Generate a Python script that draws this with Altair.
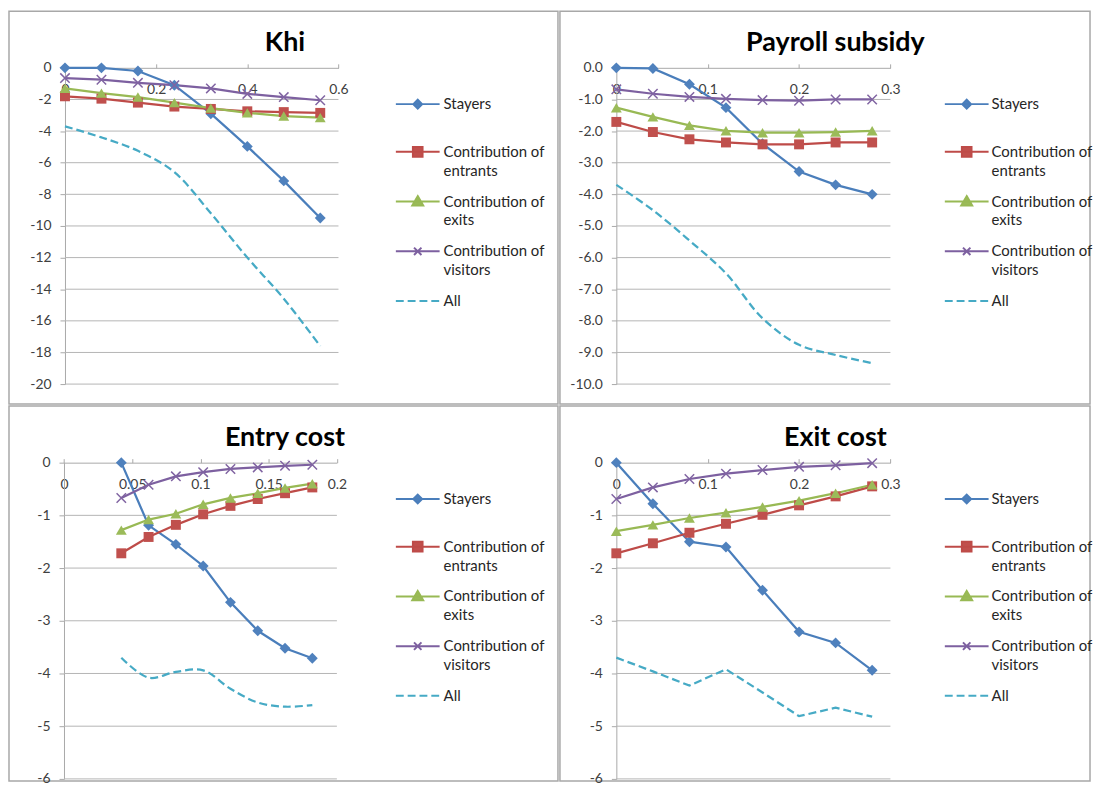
import altair as alt
import pandas as pd

SERIES = ["Stayers", "Contribution of entrants", "Contribution of exits",
          "Contribution of visitors", "All"]
LINE_COLORS = ["#4A7EBB", "#BE4B48", "#98B954", "#7D60A0", "#46AAC5"]
MARKER_COLORS = ["#4F81BD", "#C0504D", "#9BBB59", "#8064A2", "#4BACC6"]

# ---- Khi ----
khi_x = [0, 0.08, 0.16, 0.24, 0.32, 0.40, 0.48, 0.56]
khi_stayers = [0, 0, -0.2, -1.1, -2.9, -4.97, -7.15, -9.5]
khi_entrants = [-1.8, -1.95, -2.2, -2.45, -2.6, -2.75, -2.8, -2.85]
khi_exits = [-1.3, -1.6, -1.85, -2.2, -2.55, -2.85, -3.05, -3.15]
khi_visitors = [-0.65, -0.75, -0.95, -1.1, -1.3, -1.65, -1.85, -2.05]
khi_all = [-3.7, -4.4, -5.25, -6.6, -9.2, -12.0, -14.6, -17.6]
khi_xticks = [0, 0.2, 0.4, 0.6]
khi_yticks = [0, -2, -4, -6, -8, -10, -12, -14, -16, -18, -20]

# ---- Payroll subsidy ----
pay_x = [0, 0.04, 0.08, 0.12, 0.16, 0.20, 0.24, 0.28]
pay_stayers = [0, -0.02, -0.52, -1.26, -2.4, -3.28, -3.7, -4.0]
pay_entrants = [-1.71, -2.03, -2.26, -2.36, -2.42, -2.42, -2.36, -2.36]
pay_exits = [-1.26, -1.55, -1.82, -1.99, -2.05, -2.05, -2.03, -1.99]
pay_visitors = [-0.68, -0.82, -0.92, -0.98, -1.02, -1.04, -1.0, -1.0]
pay_all = [-3.7, -4.5, -5.46, -6.5, -7.92, -8.76, -9.08, -9.34]
pay_xticks = [0, 0.1, 0.2, 0.3]
pay_yticks = [0, -1, -2, -3, -4, -5, -6, -7, -8, -9, -10]

# ---- Entry cost ----
ent_x = [0.042, 0.062, 0.082, 0.102, 0.122, 0.142, 0.162, 0.182]
ent_stayers = [0, -1.19, -1.55, -1.96, -2.65, -3.19, -3.52, -3.71]
ent_entrants = [-1.72, -1.41, -1.18, -0.98, -0.82, -0.69, -0.58, -0.47]
ent_exits = [-1.28, -1.08, -0.97, -0.79, -0.67, -0.58, -0.48, -0.40]
ent_visitors = [-0.67, -0.42, -0.26, -0.18, -0.12, -0.09, -0.06, -0.04]
ent_all = [-3.70, -4.08, -3.97, -3.94, -4.29, -4.55, -4.63, -4.60]
ent_xticks = [0, 0.05, 0.1, 0.15, 0.2]
ent_yticks = [0, -1, -2, -3, -4, -5, -6]

# ---- Exit cost ----
ext_x = [0, 0.04, 0.08, 0.12, 0.16, 0.20, 0.24, 0.28]
ext_stayers = [0, -0.78, -1.50, -1.60, -2.42, -3.21, -3.42, -3.94]
ext_entrants = [-1.72, -1.53, -1.33, -1.16, -0.99, -0.81, -0.64, -0.45]
ext_exits = [-1.30, -1.18, -1.05, -0.95, -0.84, -0.72, -0.58, -0.42]
ext_visitors = [-0.69, -0.47, -0.31, -0.21, -0.14, -0.08, -0.05, -0.01]
ext_all = [-3.70, -3.96, -4.23, -3.92, -4.36, -4.81, -4.65, -4.82]
ext_xticks = [0, 0.1, 0.2, 0.3]
ext_yticks = [0, -1, -2, -3, -4, -5, -6]

# ---- styling ----
GRID = "#b4b4b4"
AXIS = "#a8a8a8"
FONT = "Lato"
X_PATH = "M-1,-1L1,1M-1,1L1,-1"
E = "M0,-0.636M0,0.923"
LEGEND_PATHS = [
    E + "M-1,0L1,0M-0.2,0L0,-0.2L0.2,0L0,0.2Z",
    E + "M-1,0L1,0M-0.22,-0.22L0.22,-0.22L0.22,0.22L-0.22,0.22Z",
    E + "M-1,0L1,0M0,-0.25L0.25,0.18L-0.25,0.18Z",
    E + "M-1,0L1,0M-0.17,-0.17L0.17,0.17M-0.17,0.17L0.17,-0.17",
    E + "M-1,0L-0.64,0M-0.46,0L-0.1,0M0.08,0L0.44,0M0.62,0L0.98,0",
]
LABEL_EXPR = ("indexof(datum.label, 'Contribution of ') == 0 ? "
              "['Contribution of', substring(datum.label, 16)] : datum.label")

PY0, PY1 = 57, 375


def build_panel(title, xs, vals, x_ticks, y_ticks, y_fmt, smooth_all,
                px0, px1, width, height, title_dx, leg_x, leg_off):
    rows = []
    for s, v in zip(SERIES, vals):
        for xv, yv in zip(xs, v):
            rows.append({"x": xv, "value": yv, "series": s})
    df = pd.DataFrame(rows)
    grid_df = pd.DataFrame({"gy": y_ticks[1:],
                            "x0": [x_ticks[0]] * (len(y_ticks) - 1),
                            "x1": [x_ticks[-1]] * (len(y_ticks) - 1)})

    xscale = alt.Scale(domain=[x_ticks[0], x_ticks[-1]], range=[px0, px1],
                       nice=False, zero=False)
    yscale = alt.Scale(domain=[y_ticks[-1], y_ticks[0]], range=[PY1, PY0],
                       nice=False, zero=False)
    xaxis = alt.Axis(orient="top", offset=-PY0, values=x_ticks, format="~g",
                     grid=False, title=None, tickSize=4, labelBaseline="top",
                     labelPadding=-19, labelFlush=False, labelOverlap=False,
                     labelExpr="replace(datum.label, '\u2212', '-')")
    yaxis = alt.Axis(orient="left", offset=-px0, values=y_ticks, format=y_fmt,
                     grid=False, title=None, tickSize=5, labelPadding=9,
                     labelOverlap=False, labelFlush=False,
                     labelExpr="replace(datum.label, '\u2212', '-')")

    def X(f):
        return alt.X(f, scale=xscale, axis=xaxis, title=None)

    def Y(f):
        return alt.Y(f, scale=yscale, axis=yaxis, title=None)

    layers = [alt.Chart(grid_df).mark_rule(color=GRID, strokeWidth=1).encode(
        x=X("x0:Q"), x2="x1:Q", y=Y("gy:Q"))]

    for i, s in enumerate(SERIES):
        base = alt.Chart(df).transform_filter(alt.datum.series == s)
        if s == "All":
            line = base.mark_line(color=LINE_COLORS[i], strokeWidth=2.25,
                                  strokeDash=[8, 4],
                                  interpolate="catmull-rom" if smooth_all else "linear")
        else:
            line = base.mark_line(color=LINE_COLORS[i], strokeWidth=2.25)
        layers.append(line.encode(x=X("x:Q"), y=Y("value:Q")))
    marker_specs = [
        dict(shape="diamond", size=120, filled=True, fill=MARKER_COLORS[0]),
        dict(shape="square", size=100, filled=True, fill=MARKER_COLORS[1]),
        dict(shape="triangle-up", size=120, filled=True, fill=MARKER_COLORS[2]),
        dict(shape=X_PATH, size=90, filled=False, stroke=MARKER_COLORS[3],
             strokeWidth=1.5),
    ]
    for i, spec in enumerate(marker_specs):
        base = alt.Chart(df).transform_filter(alt.datum.series == SERIES[i])
        layers.append(base.mark_point(opacity=1, **spec).encode(
            x=X("x:Q"), y=Y("value:Q")))

    leg = alt.Legend(title=None, orient="none", legendX=leg_x, legendY=70.5,
                     symbolSize=1936, symbolStrokeWidth=2, labelOffset=leg_off,
                     rowPadding=0, padding=0, labelExpr=LABEL_EXPR,
                     labelFont=FONT, labelFontSize=15, labelColor="#262626",
                     labelLimit=300)
    legend_layer = alt.Chart(df).transform_filter("false").mark_point(
        filled=True, size=1936, strokeWidth=2, opacity=1).encode(
        fill=alt.Fill("series:N", scale=alt.Scale(domain=SERIES, range=MARKER_COLORS), legend=leg),
        stroke=alt.Stroke("series:N", scale=alt.Scale(domain=SERIES, range=LINE_COLORS), legend=leg),
        shape=alt.Shape("series:N", scale=alt.Scale(domain=SERIES, range=LEGEND_PATHS), legend=leg),
    )
    layers.append(legend_layer)

    return alt.layer(*layers).properties(
        width=width, height=height,
        title=alt.TitleParams(text=title, font=FONT, fontSize=27, fontWeight="bold",
                              color="#000000", anchor="middle", baseline="middle",
                              offset=-59, dx=title_dx),
    )


p1 = build_panel("Khi", khi_x,
                 [khi_stayers, khi_entrants, khi_exits, khi_visitors, khi_all],
                 khi_xticks, khi_yticks, "d", True, 56.3, 331.3, 552, 395, 1.5,
                 388, 3)
p2 = build_panel("Payroll subsidy", pay_x,
                 [pay_stayers, pay_entrants, pay_exits, pay_visitors, pay_all],
                 pay_xticks, pay_yticks, ".1f", True, 56.7, 332.3, 533, 395, 10.5,
                 386, 2)
p3 = build_panel("Entry cost", ent_x,
                 [ent_stayers, ent_entrants, ent_exits, ent_visitors, ent_all],
                 ent_xticks, ent_yticks, "d", True, 55.3, 329.7, 552, 377, 1.5,
                 388, 3)
p4 = build_panel("Exit cost", ext_x,
                 [ext_stayers, ext_entrants, ext_exits, ext_visitors, ext_all],
                 ext_xticks, ext_yticks, "d", False, 56.7, 332.3, 533, 377, 10.5,
                 386, 2)

RES = dict(fill="independent", stroke="independent", shape="independent")
top = alt.hconcat(p1, p2, spacing=0).resolve_scale(**RES)
bottom = alt.hconcat(p3, p4, spacing=0).resolve_scale(**RES)
chart = alt.vconcat(top, bottom, spacing=0).resolve_scale(**RES).properties(
    padding={"left": 0, "top": 0, "right": 0, "bottom": 0}
)

chart = chart.configure(
    style={"guide-label": {"lineHeight": 19}}
).configure_view(
    stroke=AXIS, strokeWidth=1.5
).configure_axis(
    labelFont=FONT, labelFontSize=14, labelColor="#404040",
    domainColor=AXIS, tickColor=AXIS, domainWidth=1, tickWidth=1
).configure_legend(
    labelFont=FONT, labelFontSize=15
)

chart.save("out.html", embed_options={"renderer": "svg", "actions": False})
